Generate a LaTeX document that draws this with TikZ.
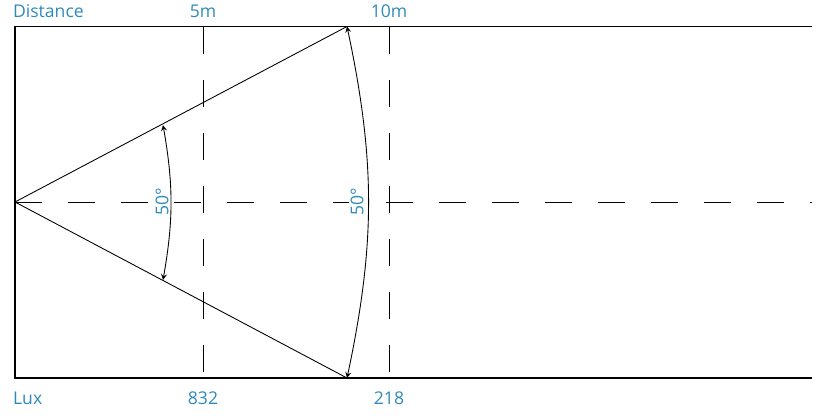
\documentclass[tikz,border=0pt]{standalone}
\usepackage{fontspec}
\setmainfont{Open Sans}
\usepackage{tikz}
\usetikzlibrary{arrows}
\tikzstyle{guide} = [line width=0.5pt, dash pattern=on 0.54cm off 0.52cm]
\tikzstyle{lbl} = [text=luxblue, font=\fontsize{10}{12}\selectfont, inner sep=1pt]
\definecolor{luxblue}{HTML}{2E8BB8}

\begin{document}
\begin{tikzpicture}
			\useasboundingbox (0,0) rectangle (16.72,8.30);
			\coordinate (O) at (0.30,4.26);
			\coordinate (T) at (6.94,7.77);
			\coordinate (B) at (6.94,0.74);
			\coordinate (tl) at (0.30,7.77);
			\coordinate (bl) at (0.30,0.74);
			\coordinate (tr) at (16.24,7.77);
			\coordinate (br) at (16.24,0.74);
			\coordinate (mr) at (16.24,4.26);
			\coordinate (s1) at (3.26,5.80);
			\coordinate (s2) at (3.26,2.70);
			\coordinate (d5t) at (4.06,7.77);
			\coordinate (d5b) at (4.06,0.74);
			\coordinate (d10t) at (7.78,7.77);
			\coordinate (d10b) at (7.78,0.74);
			\draw[line width=0.6pt] (tr) -- (tl) -- (bl) -- (br);
			\draw[guide] (O) -- (mr);
			\draw[guide] (d5t) -- (d5b);
			\draw[guide] (d10t) -- (d10b);
			\draw[line width=0.5pt] (T) -- (O) -- (B);
			\node[lbl, fill=white, rotate=90] (a1) at (3.24,4.26) {50°};
			\node[lbl, fill=white, rotate=90] (a2) at (7.14,4.26) {50°};
			\draw[line width=0.5pt,stealth-stealth] (s1) to[bend left=10] (s2);
			\draw[line width=0.5pt,stealth-stealth] (T) to[bend left=12] (B);
			\node[lbl, anchor=west] (dist) at (0.22,8.08) {Distance};
			\node[lbl] (m5) at (4.06,8.08) {5m};
			\node[lbl] (m10) at (7.78,8.08) {10m};
			\node[lbl, anchor=west] (lux) at (0.22,0.34) {Lux};
			\node[lbl] (l5) at (4.06,0.34) {832};
			\node[lbl] (l10) at (7.78,0.34) {218};
		\end{tikzpicture}
\end{document}
